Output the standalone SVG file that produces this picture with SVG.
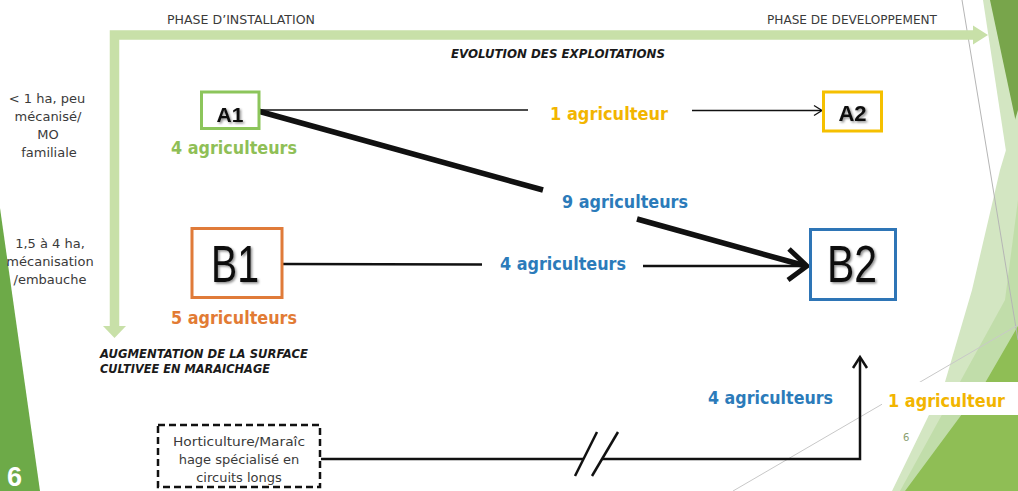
<svg xmlns="http://www.w3.org/2000/svg" width="1018" height="491" viewBox="0 0 1018 491">
<defs>
<filter id="sh" x="-20%" y="-20%" width="140%" height="140%">
<feDropShadow dx="1.5" dy="1.5" stdDeviation="1.2" flood-color="#000" flood-opacity="0.45"/>
</filter>
<style>
.sm{font-family:"DejaVu Sans","Liberation Sans",sans-serif;font-size:12.5px;fill:#3a3a3a}
.lt{font-family:"DejaVu Sans","Liberation Sans",sans-serif;font-size:13px;fill:#3a3a3a;text-anchor:middle}
.bi{font-family:"DejaVu Sans","Liberation Sans",sans-serif;font-size:13px;font-weight:bold;font-style:italic;fill:#1a1a1a}
.lb{font-family:"DejaVu Sans","Liberation Sans",sans-serif;font-size:17px;font-weight:bold}
.na{font-family:"Liberation Sans","DejaVu Sans",sans-serif;font-weight:bold;fill:#111;text-anchor:middle;filter:url(#sh)}
.nb{font-family:"Liberation Sans","DejaVu Sans",sans-serif;font-size:52px;fill:#111;text-anchor:middle;filter:url(#sh)}
.box{fill:#fff;stroke-width:3}
.ln{fill:none;stroke:#111;stroke-linecap:butt}
.grn{fill:#8fbf56}.yel{fill:#f2b500}.org{fill:#e27b34}.blu{fill:#2b7bba}
</style>
</defs>
<rect width="1018" height="491" fill="#fff"/>

<g id="decor">
<polygon points="0,208 40,491 0,491" fill="#6daa48"/>
<text x="7" y="486" font-family="Liberation Sans,sans-serif" font-size="27" font-weight="bold" fill="#fff">6</text>
<polygon points="983,0 1018,0 1018,230" fill="#d3e6c2"/>
<polygon points="990,0 1018,0 1018,132" fill="#78a54b"/>
<polygon points="1018,110 1018,491 892,491 945,382 972,290 1000,170" fill="#d3e6c2"/>
<polygon points="1018,200 1018,491 900,491 1005,300" fill="#b6d79a" opacity="0.6"/>
<polygon points="1018,326 1018,491 905,491 985,383" fill="#8fbe55"/>
<line x1="962" y1="0" x2="1018" y2="340" stroke="#b5b5b5" stroke-width="1"/>
<line x1="733" y1="491" x2="1018" y2="325" stroke="#c8c8c8" stroke-width="1"/>
<rect x="882" y="382" width="136" height="33" fill="#fff"/>
<text x="903" y="441" font-family="DejaVu Sans,sans-serif" font-size="10" fill="#8aa070">6</text>
</g>

<g id="axes">
<path d="M114.5,327 L114.5,35 L975,35" fill="none" stroke="#c8e0a8" stroke-width="9.5"/>
<polygon points="973,25.5 988,35 973,44.5" fill="#c8e0a8"/>
<polygon points="103,326 114.5,338 126,326" fill="#c8e0a8"/>
<text class="sm" x="167" y="24" textLength="148" lengthAdjust="spacingAndGlyphs">PHASE D’INSTALLATION</text>
<text class="sm" x="767" y="24" textLength="170" lengthAdjust="spacingAndGlyphs">PHASE DE DEVELOPPEMENT</text>
<text class="bi" x="451" y="58" textLength="214" lengthAdjust="spacingAndGlyphs">EVOLUTION DES EXPLOITATIONS</text>
<text class="bi" x="100" y="358" textLength="208" lengthAdjust="spacingAndGlyphs">AUGMENTATION DE LA SURFACE</text>
<text class="bi" x="100" y="373" textLength="170" lengthAdjust="spacingAndGlyphs">CULTIVEE EN MARAICHAGE</text>
<text class="lt" x="47" y="103">&lt; 1 ha, peu</text>
<text class="lt" x="48" y="121">mécanisé/</text>
<text class="lt" x="48" y="139">MO</text>
<text class="lt" x="49" y="157">familiale</text>
<text class="lt" x="50" y="248">1,5 à 4 ha,</text>
<text class="lt" x="50" y="266">mécanisation</text>
<text class="lt" x="50" y="284">/embauche</text>
</g>

<g id="connectors">
<line class="ln" x1="259" y1="110" x2="528" y2="110" stroke-width="1.3"/>
<line class="ln" x1="692" y1="110.5" x2="821" y2="110.5" stroke-width="1.3"/>
<path class="ln" d="M814,105.5 L822,110.5 L814,115.5" stroke-width="1.3"/>
<line class="ln" x1="258" y1="111" x2="543" y2="190" stroke-width="5.5" stroke-linecap="round"/>
<line class="ln" x1="637" y1="219" x2="804" y2="265.5" stroke-width="5.5"/>
<line class="ln" x1="282" y1="264" x2="482" y2="264.5" stroke-width="2.5"/>
<line class="ln" x1="643" y1="266" x2="806" y2="266" stroke-width="2.5"/>
<path class="ln" d="M789,249 L807,266 L788,280" stroke-width="5" stroke-linejoin="round" stroke-linecap="round"/>
<line class="ln" x1="321" y1="459" x2="583" y2="459" stroke-width="2.5"/>
<path class="ln" d="M602,459 L860,459 L860,358" stroke-width="2.5"/>
<path class="ln" d="M853,368 L860,357 L867,368" stroke-width="2.5"/>
<line class="ln" x1="575" y1="476" x2="597" y2="432" stroke-width="2.5"/>
<line class="ln" x1="592" y1="476" x2="618" y2="432" stroke-width="2.5"/>
<text class="lb yel" x="550" y="120" textLength="118" lengthAdjust="spacingAndGlyphs">1 agriculteur</text>
<text class="lb blu" x="562" y="208" textLength="126" lengthAdjust="spacingAndGlyphs">9 agriculteurs</text>
<text class="lb blu" x="500" y="270" textLength="126" lengthAdjust="spacingAndGlyphs">4 agriculteurs</text>
<text class="lb blu" x="708" y="404" textLength="125" lengthAdjust="spacingAndGlyphs">4 agriculteurs</text>
<text class="lb yel" x="888" y="407" textLength="117" lengthAdjust="spacingAndGlyphs">1 agriculteur</text>
</g>

<g id="A1">
<rect class="box" x="201.5" y="92" width="57.5" height="36.5" stroke="#8cc55b"/>
<text class="na" x="230" y="122" font-size="21">A1</text>
<text class="lb grn" x="171" y="154" textLength="126" lengthAdjust="spacingAndGlyphs">4 agriculteurs</text>
</g>

<g id="A2">
<rect class="box" x="823.5" y="92" width="58" height="39" stroke="#f5c000"/>
<text class="na" x="852.5" y="121" font-size="22">A2</text>
</g>

<g id="B1">
<rect class="box" x="192" y="228.5" width="90" height="69" stroke="#e07b39"/>
<text class="nb" x="235" y="282" textLength="48" lengthAdjust="spacingAndGlyphs">B1</text>
<text class="lb org" x="171" y="324" textLength="126" lengthAdjust="spacingAndGlyphs">5 agriculteurs</text>
</g>

<g id="B2">
<rect class="box" x="810.5" y="229.5" width="85" height="70" stroke="#2e75b6"/>
<text class="nb" x="852" y="282" textLength="50" lengthAdjust="spacingAndGlyphs">B2</text>
</g>

<g id="H">
<rect x="158" y="425" width="162" height="62" fill="#fff" stroke="#111" stroke-width="2.5" stroke-dasharray="7 4"/>
<text class="lt" x="239" y="446" font-size="12.5" textLength="132" lengthAdjust="spacingAndGlyphs">Horticulture/Maraîc</text>
<text class="lt" x="239" y="464" font-size="12.5">hage spécialisé en</text>
<text class="lt" x="239" y="482" font-size="12.5">circuits longs</text>
</g>
</svg>
